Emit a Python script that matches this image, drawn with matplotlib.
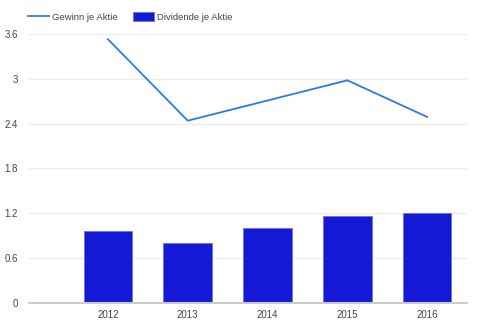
import matplotlib.pyplot as plt

years = ["2012", "2013", "2014", "2015", "2016"]
gewinn = [3.53, 2.44, 2.71, 2.98, 2.49]
dividende = [0.96, 0.80, 1.00, 1.16, 1.20]
yticks = [0, 0.6, 1.2, 1.8, 2.4, 3, 3.6]
yticklabels = ["0", "0.6", "1.2", "1.8", "2.4", "3", "3.6"]

plt.rcParams['font.family'] = ['Liberation Sans', 'DejaVu Sans']

fig = plt.figure(figsize=(4.82, 3.25), dpi=100)
ax = fig.add_axes([0.060, 0.0677, 0.909, 0.8277])

x = list(range(len(years)))
bars = ax.bar(x, dividende, width=0.61, color="#1419d6", edgecolor="#6d70e6",
              linewidth=0.6, zorder=2, label="Dividende je Aktie")
line, = ax.plot(x, gewinn, color="#2a7be4", linewidth=1.3, zorder=3,
                label="Gewinn je Aktie")

ax.set_xlim(-0.99, 4.5)
ax.set_ylim(0, 3.6)
ax.set_yticks(yticks)
ax.set_yticklabels(yticklabels)
ax.set_xticks(x)
ax.set_xticklabels(years)
ax.tick_params(axis='both', length=0, labelsize=7, colors="#444444")
ax.tick_params(axis='y', pad=8)
ax.tick_params(axis='x', pad=5)
ax.grid(axis='y', color="#ebebeb", linewidth=0.8, zorder=0)
for s in ["top", "right", "left"]:
    ax.spines[s].set_visible(False)
ax.spines["bottom"].set_color("#cccccc")
ax.spines["bottom"].set_linewidth(1.5)
ax.spines["bottom"].set_zorder(4)

fig.legend(handles=[line, bars], loc="upper left", bbox_to_anchor=(0.041, 0.988),
           ncol=2, frameon=False, fontsize=6.8, handlelength=2.2,
           handleheight=1.0, columnspacing=1.6, handletextpad=0.35,
           labelcolor="#444444")

fig.savefig("out.png", dpi=100)
